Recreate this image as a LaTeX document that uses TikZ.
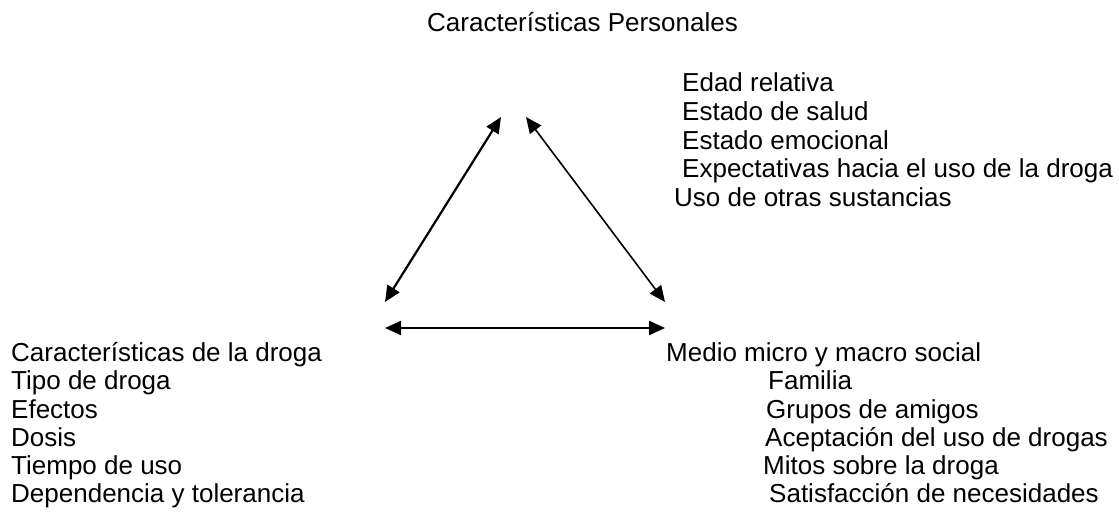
\documentclass[tikz,border=0pt]{standalone}
\usepackage{fontspec}
\setmainfont{Liberation Sans}
\usepackage{tikz}
\usetikzlibrary{arrows.meta}
\tikzstyle{txt}=[anchor=base west,inner sep=0pt,font=\fontsize{26pt}{28pt}\selectfont]
\tikzstyle{dbl}=[{Triangle[length=16pt,width=14pt]}-{Triangle[length=16pt,width=14pt]}]

\begin{document}
\begin{tikzpicture}[x=1pt,y=-1pt]
\useasboundingbox (0,0) rectangle (1119,513);

\node[txt] (pers) at (427,32) {Características Personales};
\node[txt] (p1) at (682,92) {Edad relativa};
\node[txt] (p2) at (682,121) {Estado de salud};
\node[txt] (p3) at (682,150) {Estado emocional};
\node[txt] (p4) at (682,178) {Expectativas hacia el uso de la droga};
\node[txt] (p5) at (674,207) {Uso de otras sustancias};

\node[txt] (drog) at (11,361) {Características de la droga};
\node[txt] (d1) at (11,389) {Tipo de droga};
\node[txt] (d2) at (11,418) {Efectos};
\node[txt] (d3) at (11,446) {Dosis};
\node[txt] (d4) at (11,474) {Tiempo de uso};
\node[txt] (d5) at (11,502) {Dependencia y tolerancia};

\node[txt] (soc) at (666,361) {Medio micro y macro social};
\node[txt] (s1) at (768,389) {Familia};
\node[txt] (s2) at (766,418) {Grupos de amigos};
\node[txt] (s3) at (765,446) {Aceptación del uso de drogas};
\node[txt] (s4) at (763,474) {Mitos sobre la droga};
\node[txt] (s5) at (769,502) {Satisfacción de necesidades};

\coordinate (topl) at (501,117);
\coordinate (topr) at (526,117);
\coordinate (botl) at (385,302);
\coordinate (botr) at (665,302);
\coordinate (basel) at (385,328);
\coordinate (baser) at (665,328);

\draw[dbl,line width=2.2pt] (botl) -- (topl);
\draw[dbl,line width=1.6pt] (topr) -- (botr);
\draw[dbl,line width=2.2pt] (basel) -- (baser);
\end{tikzpicture}
\end{document}
